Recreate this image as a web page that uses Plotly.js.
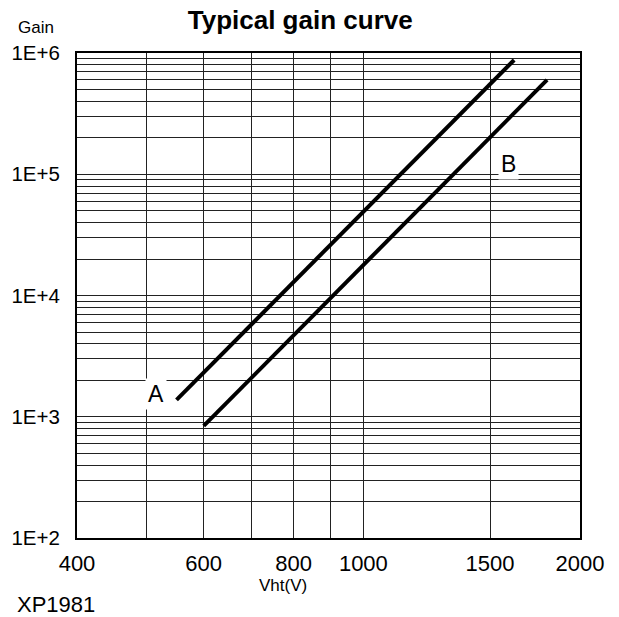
<!DOCTYPE html>
<html>
<head>
<meta charset="utf-8">
<script src="https://cdn.plot.ly/plotly-3.0.1.min.js"></script>
<style>html,body{margin:0;padding:0;background:#fff;}#chart{width:619px;height:617px;}</style>
</head>
<body>
<div id="chart"></div>
<script>
// Data
const curveA_V = [550, 1620];
const curveA_gain = [1380, 875000];
const curveB_V = [600, 1800];
const curveB_gain = [840, 600000];

const xTickVals = [400, 600, 800, 1000, 1500, 2000];
const xTickText = ['400', '600', '800', '1000', '1500', '2000'];
const xMinorVals = [500, 700, 900];
const yTickVals = [100, 1000, 10000, 100000, 1000000];
const yTickText = ['1E+2', '1E+3', '1E+4', '1E+5', '1E+6'];
const yMinorVals = [];
[100, 1000, 10000, 100000].forEach(d => { for (let k = 2; k <= 9; k++) yMinorVals.push(k * d); });

const labelA = {text: 'A', V: 515, gain: 1540};
const labelB = {text: 'B', V: 1592, gain: 121500};

const FONT = 'Liberation Sans, Arial, sans-serif';

const traces = [
  {x: curveA_V, y: curveA_gain, mode: 'lines', line: {color: '#000', width: 4}, showlegend: false, hoverinfo: 'skip'},
  {x: curveB_V, y: curveB_gain, mode: 'lines', line: {color: '#000', width: 4}, showlegend: false, hoverinfo: 'skip'}
];

const gridC = '#222';
const layout = {
  width: 619, height: 617,
  margin: {l: 77, r: 39, t: 53, b: 79},
  paper_bgcolor: '#fff', plot_bgcolor: '#fff',
  font: {family: FONT, color: '#000', size: 20},
  title: {text: '<b>Typical gain curve</b>', font: {family: FONT, size: 26, color: '#000'},
          x: 0.485, xanchor: 'center', y: 0.968, yanchor: 'middle', xref: 'container', yref: 'container'},
  xaxis: {
    type: 'log', range: [Math.log10(400), Math.log10(2000)],
    tickmode: 'array', tickvals: xTickVals, ticktext: xTickText,
    showgrid: true, gridcolor: gridC, gridwidth: 1,
    minor: {tickmode: 'array', tickvals: xMinorVals, showgrid: true, gridcolor: gridC, gridwidth: 1, ticks: ''},
    showline: true, mirror: true, linecolor: '#000', linewidth: 2,
    ticks: '', ticklabelstandoff: 5, zeroline: false,
    tickfont: {family: FONT, size: 22, color: '#000'}
  },
  yaxis: {
    type: 'log', range: [2, 6],
    tickmode: 'array', tickvals: yTickVals, ticktext: yTickText,
    showgrid: true, gridcolor: gridC, gridwidth: 1,
    minor: {tickmode: 'array', tickvals: yMinorVals, showgrid: true, gridcolor: gridC, gridwidth: 1, ticks: ''},
    showline: true, mirror: true, linecolor: '#000', linewidth: 2,
    ticks: '', ticklabelstandoff: 11, zeroline: false,
    tickfont: {family: FONT, size: 20.5, color: '#000'}
  },
  annotations: [
    {x: Math.log10(labelA.V), y: Math.log10(labelA.gain), xref: 'x', yref: 'y', text: labelA.text, showarrow: false,
     font: {family: FONT, size: 23, color: '#000'}, bgcolor: '#fff', borderpad: 2},
    {x: Math.log10(labelB.V), y: Math.log10(labelB.gain), xref: 'x', yref: 'y', text: labelB.text, showarrow: false,
     font: {family: FONT, size: 23, color: '#000'}, bgcolor: '#fff', borderpad: 2},
    {x: -0.121, y: 1.052, xref: 'paper', yref: 'paper', xanchor: 'left', yanchor: 'middle', text: 'Gain', showarrow: false,
     font: {family: FONT, size: 17, color: '#000'}},
    {x: 0.4105, y: -0.097, xref: 'paper', yref: 'paper', xanchor: 'center', yanchor: 'middle', text: 'Vht(V)', showarrow: false,
     font: {family: FONT, size: 17, color: '#000'}},
    {x: -0.123, y: -0.137, xref: 'paper', yref: 'paper', xanchor: 'left', yanchor: 'middle', text: 'XP1981', showarrow: false,
     font: {family: FONT, size: 22, color: '#000'}}
  ]
};

Plotly.newPlot('chart', traces, layout, {displayModeBar: false, staticPlot: true});
</script>
</body>
</html>
